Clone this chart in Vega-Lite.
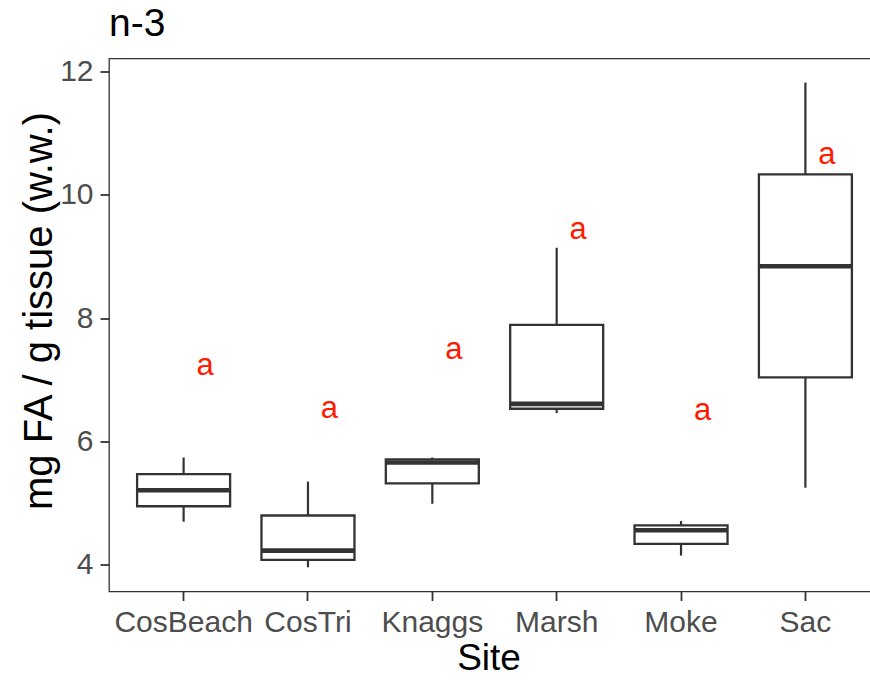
{
  "$schema": "https://vega.github.io/schema/vega-lite/v6.json",
  "width": 771,
  "height": 533,
  "autosize": {"type": "none"},
  "padding": {"left": 109, "top": 58.5, "right": -10, "bottom": 90.5},
  "background": "white",
  "title": {"text": "n-3", "anchor": "start", "frame": "group", "fontSize": 39, "font": "Liberation Sans", "fontWeight": "normal", "color": "black", "baseline": "bottom", "offset": 10, "dy": 37},
  "config": {
    "font": "Liberation Sans",
    "view": {"stroke": "#333333", "strokeWidth": 1.3},
    "axis": {
      "grid": false,
      "domain": false,
      "labelFont": "Liberation Sans",
      "labelFontSize": 30,
      "labelColor": "#4D4D4D",
      "tickSize": 9,
      "tickColor": "#333333",
      "tickWidth": 1.8,
      "labelPadding": 7,
      "titleFont": "Liberation Sans",
      "titleFontSize": 37,
      "titleFontWeight": "normal",
      "titleColor": "black"
    }
  },
  "data": {
    "values": [
      {"site": "CosBeach", "lower": 4.70, "q1": 4.95, "median": 5.21, "q3": 5.47, "upper": 5.74, "letter": "a", "label_y": 7.23},
      {"site": "CosTri", "lower": 3.96, "q1": 4.08, "median": 4.23, "q3": 4.80, "upper": 5.35, "letter": "a", "label_y": 6.52},
      {"site": "Knaggs", "lower": 4.99, "q1": 5.32, "median": 5.66, "q3": 5.71, "upper": 5.74, "letter": "a", "label_y": 7.48},
      {"site": "Marsh", "lower": 6.46, "q1": 6.53, "median": 6.61, "q3": 7.89, "upper": 9.14, "letter": "a", "label_y": 9.42},
      {"site": "Moke", "lower": 4.15, "q1": 4.34, "median": 4.56, "q3": 4.64, "upper": 4.71, "letter": "a", "label_y": 6.49},
      {"site": "Sac", "lower": 5.25, "q1": 7.04, "median": 8.84, "q3": 10.33, "upper": 11.82, "letter": "a", "label_y": 10.64}
    ]
  },
  "encoding": {
    "x": {
      "field": "site",
      "type": "nominal",
      "sort": null,
      "scale": {"paddingInner": 0, "paddingOuter": 0.1},
      "axis": {"title": "Site", "labelAngle": 0, "titlePadding": 3, "titleX": 379.5}
    }
  },
  "layer": [
    {
      "mark": {"type": "rule", "color": "#333333", "strokeWidth": 2.2},
      "encoding": {
        "y": {
          "field": "lower",
          "type": "quantitative",
          "scale": {"domain": [3.568, 12.208], "nice": false, "zero": false},
          "axis": {"title": "mg FA / g tissue (w.w.)", "values": [4, 6, 8, 10, 12], "format": "d", "titlePadding": 0, "titleFontSize": 40, "titleY": 252}
        },
        "y2": {"field": "upper"}
      }
    },
    {
      "mark": {"type": "bar", "fill": "white", "stroke": "#333333", "strokeWidth": 2.3, "size": 93},
      "encoding": {
        "y": {"field": "q1", "type": "quantitative"},
        "y2": {"field": "q3"}
      }
    },
    {
      "mark": {"type": "tick", "color": "#333333", "opacity": 1, "thickness": 4.6, "size": 93},
      "encoding": {
        "y": {"field": "median", "type": "quantitative"}
      }
    },
    {
      "mark": {"type": "text", "color": "#FF1A00", "fontSize": 31, "dx": 21.5, "baseline": "middle", "font": "Liberation Sans"},
      "encoding": {
        "y": {"field": "label_y", "type": "quantitative"},
        "text": {"field": "letter"}
      }
    }
  ]
}
